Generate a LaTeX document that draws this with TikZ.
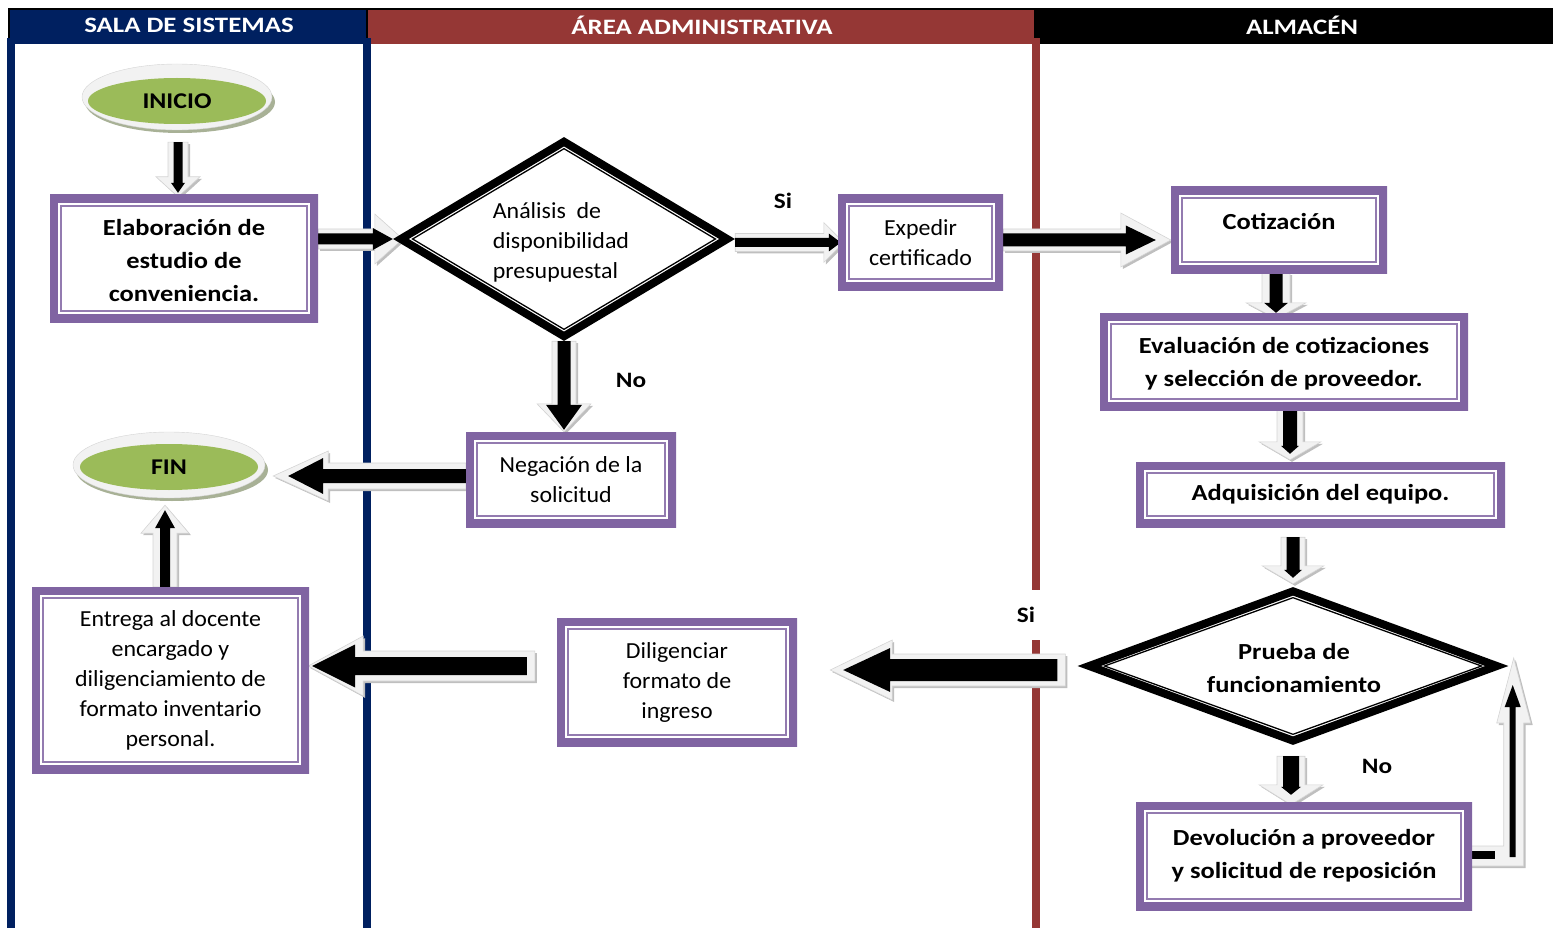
\documentclass[tikz,border=0pt]{standalone}
\usepackage{fontspec}
\setmainfont{Carlito}[FakeStretch=1.04]
\newfontfamily\anchab{Carlito}[FakeStretch=1.15]
\newfontfamily\anchac{Carlito}[FakeStretch=1.22]
\usetikzlibrary{shapes.geometric,calc}

\definecolor{azul}{HTML}{002060}
\definecolor{rojo}{HTML}{953735}
\definecolor{morado}{HTML}{8064A2}
\definecolor{verde}{HTML}{9BBB59}
\definecolor{grisclaro}{HTML}{F2F2F2}
\definecolor{grisborde}{HTML}{D4D4D4}
\definecolor{sombra}{HTML}{BFBFBF}
\definecolor{sombraverde}{HTML}{A8B196}

\pgfdeclarelayer{fondo}
\pgfdeclarelayer{flechas}
\pgfsetlayers{fondo,flechas,main}

\newcommand\freg{\fontsize{23}{30}\selectfont}
\newcommand\fneg{\anchab\fontsize{23}{33}\bfseries\selectfont}

% block arrow: gray bevelled outer arrow with a black arrow inside
\pgfkeys{/flecha/.cd,
  si/.store in=\fsi, hi/.store in=\fhi, li/.store in=\fli,
  so/.store in=\fso, ho/.store in=\fho, lo/.store in=\flo,
  tin/.store in=\ftin, sin/.store in=\fsin}
\newcommand\fpoly[6]{% style, start, head base, tip, shaft half width, head half width
  \path[#1] ($(#2)!#5pt!90:(#4)$) -- ($(#3)!#5pt!90:(#4)$) -- ($(#3)!#6pt!90:(#4)$) -- (#4)
    -- ($(#3)!#6pt!-90:(#4)$) -- ($(#3)!#5pt!-90:(#4)$) -- ($(#2)!#5pt!-90:(#4)$) -- cycle;}
\newcommand\flecha[3][]{%
  \pgfkeys{/flecha/.cd,si=4.5,hi=9,li=12,so=10,ho=22,lo=20,tin=6,sin=0,#1}%
  \coordinate (fA) at #2;
  \coordinate (fB) at #3;
  \coordinate (fH) at ($(fB)!\flo pt!(fA)$);
  \coordinate (fa) at ($(fA)!\fsin pt!(fB)$);
  \coordinate (fb) at ($(fB)!\ftin pt!(fA)$);
  \coordinate (fh) at ($(fb)!\fli pt!(fA)$);
  \fpoly{fill=sombra,transform canvas={shift={(2pt,-2pt)}}}{fA}{fH}{fB}{\fso}{\fho}
  \fpoly{fill=grisclaro,draw=grisborde,line width=0.6pt}{fA}{fH}{fB}{\fso}{\fho}
  \fpoly{fill=black}{fa}{fh}{fb}{\fsi}{\fhi}
}

\tikzset{
  caja/.style={rectangle, fill=white, inner sep=0pt, align=center,
    path picture={
      \draw[morado,line width=16pt] (path picture bounding box.north west) rectangle (path picture bounding box.south east);
      \draw[morado!85,line width=1.6pt] ([xshift=11pt,yshift=-11pt]path picture bounding box.north west)
        rectangle ([xshift=-11pt,yshift=11pt]path picture bounding box.south east);}},
  rombo/.style 2 args={diamond, fill=white, inner sep=0pt,
    path picture={
      \draw[black,line width=16pt] (path picture bounding box.north) -- (path picture bounding box.east)
        -- (path picture bounding box.south) -- (path picture bounding box.west) -- cycle;
      \draw[black,line width=1.3pt] ([yshift=-#1pt]path picture bounding box.north) -- ([xshift=-#2pt]path picture bounding box.east)
        -- ([yshift=#1pt]path picture bounding box.south) -- ([xshift=#2pt]path picture bounding box.west) -- cycle;}},
  terminal/.style={ellipse, fill=verde, inner sep=0pt, minimum width=178, minimum height=46,
    font=\anchab\fontsize{22.5}{28}\bfseries\selectfont},
  etiqueta/.style={font=\anchab\fontsize{22}{26}\bfseries\selectfont, inner sep=2pt},
  cabecera/.style={text=white, font=\anchac\fontsize{22}{25}\bfseries\selectfont, inner sep=0pt},
}

\begin{document}
\begin{tikzpicture}[x=1pt,y=-1pt]
\useasboundingbox (0,0) rectangle (1553,928);

% swimlane headers and lane borders
\begin{pgfonlayer}{fondo}
  \fill[black] (8,8) rectangle (1553,40);
  \fill[azul] (10,10) rectangle (366,44);
  \fill[rojo] (368,10) rectangle (1034,44);
  \fill[black] (1036,10) rectangle (1553,44);
  \fill[azul] (7,38) rectangle (15,928);
  \fill[azul] (363,38) rectangle (371,928);
  \fill[rojo] (1032,38) rectangle (1040,928);
\end{pgfonlayer}
\node[cabecera] (h1) at (189,25) {SALA DE SISTEMAS};
\node[cabecera] (h2) at (702,25) {ÁREA ADMINISTRATIVA};
\node[cabecera] (h3) at (1302,25) {ALMACÉN};

% start and end terminals
\fill[sombraverde] (180,102) ellipse [x radius=95, y radius=31];
\filldraw[fill=grisclaro, draw=grisborde] (177,97) ellipse [x radius=95, y radius=33];
\node[terminal] (inicio) at (177,101) {INICIO};
\fill[sombraverde] (172,470) ellipse [x radius=96, y radius=31];
\filldraw[fill=grisclaro, draw=grisborde] (169,465) ellipse [x radius=96, y radius=33];
\node[terminal] (fin) at (169,467) {FIN};

% process boxes and decisions
\node[caja, minimum width=268, minimum height=127] (elab) at (184,258.5) {};
\node[font=\fneg, align=center] (elabT) at (184,261) {Elaboración de\\estudio de\\conveniencia.};
\node[rombo={11.6}{19.5}, minimum width=342, minimum height=204] (analisis) at (564,239) {};
\node[font=\freg, align=left] (analisisT) at (561,242) {Análisis\ \ de\\disponibilidad\\presupuestal};
\node[caja, font=\freg, minimum width=165, minimum height=95] (expedir) at (920.5,242.5) {Expedir\\certificado};
\node[caja, minimum width=216, minimum height=86] (cotiz) at (1279,230) {};
\node[font=\fneg] (cotizT) at (1279,221) {Cotización};
\node[caja, minimum width=368, minimum height=97] (evalua) at (1284,361.5) {};
\node[font=\fneg, align=center] (evaluaT) at (1284,363.5)
  {Evaluación de cotizaciones\\y selección de proveedor.};
\node[caja, font=\fneg, minimum width=369, minimum height=65] (adq) at (1320.5,494.5) {Adquisición del equipo.};
\node[rombo={10.6}{27}, minimum width=431, minimum height=158] (prueba) at (1293,666) {};
\node[font=\fneg, align=center] (pruebaT) at (1294,668) {Prueba de\\funcionamiento};
\node[caja, font=\fneg, minimum width=336, minimum height=108] (dev) at (1304,856)
  {Devolución a proveedor\\y solicitud de reposición};
\node[caja, font=\freg, minimum width=240, minimum height=128] (dilig) at (677,682)
  {Diligenciar\\formato de\\ingreso};
\node[caja, font=\freg, minimum width=277, minimum height=186] (entrega) at (170.5,680)
  {Entrega al docente\\encargado y\\diligenciamiento de\\formato inventario\\personal.};
\node[caja, font=\freg, minimum width=210, minimum height=95] (negac) at (571,479.5)
  {Negación de la\\solicitud};

% branch labels
\node[etiqueta] (si1) at (783,201) {Si};
\node[etiqueta] (no1) at (631,380) {No};
\node[etiqueta, fill=white, minimum height=50, minimum width=30] (si2) at (1026,615) {Si};
\node[etiqueta] (no2) at (1377,766) {No};

% connectors
\begin{pgfonlayer}{flechas}
  \flecha[si=4.5,hi=7,li=10,so=10,ho=22,lo=20,tin=4]
    {([xshift=1pt,yshift=-18pt]inicio.south)}{([xshift=-6pt,yshift=-2pt]elab.north)}
  \flecha[si=5.5,hi=11,li=20,so=10,ho=25,lo=28,tin=10]
    {(elab.east |- analisis.west)}{([xshift=10pt]analisis.west)}
  \flecha[si=4.5,hi=9,li=12,so=9,ho=20,lo=20,tin=3]
    {(analisis.east |- expedir.west)}{([xshift=6pt]expedir.west)}
  \coordinate (e4) at ([yshift=2.5pt]expedir.east);
  \flecha[si=6.5,hi=14.5,li=30,so=11,ho=27,lo=50,tin=15]{(e4)}{(e4 -| cotiz.west)}
  \coordinate (f5) at (analisis.south |- negac.north);
  \flecha[si=6.5,hi=18,li=25,so=12,ho=27,lo=28,tin=2]{(analisis.south)}{(f5)}
  \coordinate (e6) at ([yshift=3.5pt]negac.west);
  \coordinate (f6) at (e6 -| fin.east);
  \flecha[si=7,hi=18,li=35,so=13,ho=25,lo=55,tin=15]{(e6)}{([xshift=15pt]f6)}
  \coordinate (e7) at ([xshift=-5.5pt]entrega.north);
  \coordinate (f7) at (e7 |- fin.south);
  \flecha[si=5,hi=10,li=18,so=12,ho=24,lo=28,tin=5]{(e7)}{([yshift=-15pt]f7)}
  \coordinate (e8) at ([yshift=16pt]dilig.west);
  \coordinate (f8) at (e8 -| entrega.east);
  \flecha[si=9,hi=21.5,li=43,so=15,ho=30,lo=55,tin=4,sin=8]{([xshift=-22pt]e8)}{([xshift=-1pt]f8)}
  \coordinate (e9) at ([xshift=-12pt,yshift=-4pt]prueba.west);
  \coordinate (f9) at (e9 -| dilig.east);
  \flecha[si=11,hi=22,li=47,so=16,ho=30,lo=62,tin=13,sin=8]{(e9)}{([xshift=33pt]f9)}
  \coordinate (e10) at ([xshift=-3pt]cotiz.south);
  \coordinate (f10) at (e10 |- evalua.north);
  \flecha[si=6.5,hi=12,li=10,so=14,ho=30,lo=16,tin=6]{(e10)}{([yshift=-6pt]f10)}
  \coordinate (e11) at ([xshift=6pt]evalua.south);
  \coordinate (f11) at (e11 |- adq.north);
  \flecha[si=7,hi=9,li=8,so=13,ho=31,lo=18,tin=6]{(e11)}{([yshift=2pt]f11)}
  \coordinate (e12) at (prueba.north |- adq.south);
  \flecha[si=6.5,hi=9,li=8,so=12,ho=31,lo=18,tin=6]{([yshift=-10pt]e12)}{([yshift=3pt]prueba.north)}
  \coordinate (e13) at ([xshift=-2pt,yshift=-11pt]prueba.south);
  \coordinate (f13) at (e13 |- dev.north);
  \flecha[si=8,hi=10,li=8,so=14,ho=32,lo=20,tin=10]{(e13)}{([yshift=-3pt]f13)}
  % return path from the replacement request back to the test
  \coordinate (retorno) at ([xshift=5pt,yshift=8pt]prueba.east);
  \coordinate (r0) at ([xshift=-6pt]dev.east);
  \path[fill=sombra,transform canvas={shift={(2pt,-2pt)}}]
    ($(r0)+(0,-10)$) -- ($(retorno |- r0)+(-10,-10)$) -- ($(retorno)+(-10,65)$) -- ($(retorno)+(-17,65)$)
    -- (retorno) -- ($(retorno)+(17,65)$) -- ($(retorno)+(10,65)$) -- ($(retorno |- r0)+(10,10)$)
    -- ($(r0)+(0,10)$) -- cycle;
  \path[fill=grisclaro,draw=grisborde,line width=0.6pt]
    ($(r0)+(0,-10)$) -- ($(retorno |- r0)+(-10,-10)$) -- ($(retorno)+(-10,65)$) -- ($(retorno)+(-17,65)$)
    -- (retorno) -- ($(retorno)+(17,65)$) -- ($(retorno)+(10,65)$) -- ($(retorno |- r0)+(10,10)$)
    -- ($(r0)+(0,10)$) -- cycle;
  \fill[black] ($(r0)+(4,-5)$) rectangle ($(r0)+(29,3)$);
  \fill[black] ($(retorno |- r0)+(-4,1)$) -- ($(retorno)+(-4,49)$) -- ($(retorno)+(-9,49)$)
    -- ($(retorno)+(-1,27)$) -- ($(retorno)+(7,49)$) -- ($(retorno)+(2,49)$) -- ($(retorno |- r0)+(2,1)$) -- cycle;
\end{pgfonlayer}
\end{tikzpicture}
\end{document}
